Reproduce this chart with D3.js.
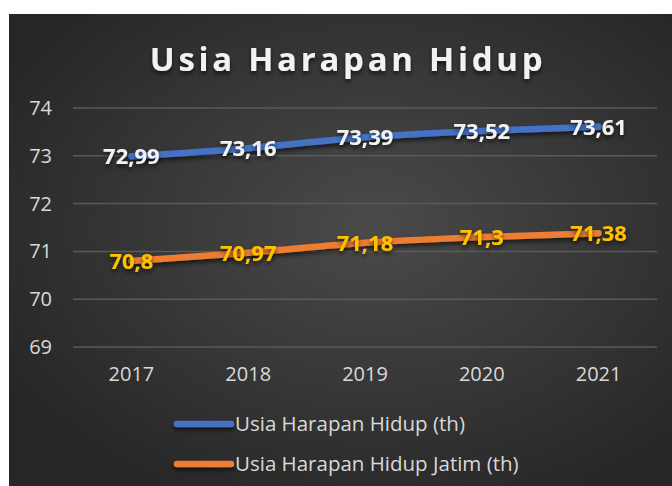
<!DOCTYPE html>
<html>
<head>
<meta charset="utf-8">
<script src="https://cdn.jsdelivr.net/npm/d3@7"></script>
<style>
  html, body { margin: 0; padding: 0; background: #fff; }
  svg { display: block; }
</style>
</head>
<body>
<div id="chart"></div>
<script>
// Data
const years = ['2017', '2018', '2019', '2020', '2021'];
const uhh = [72.99, 73.16, 73.39, 73.52, 73.61];
const uhhJatim = [70.8, 70.97, 71.18, 71.3, 71.38];
const yTicks = [69, 70, 71, 72, 73, 74];
const seriesNames = ['Usia Harapan Hidup (th)', 'Usia Harapan Hidup Jatim (th)'];

const width = 672, height = 486;
const margin = {top: 108, right: 15, bottom: 139, left: 73};
const fmt = v => String(v).replace('.', ',');

const svg = d3.select('#chart')
    .append('svg')
    .attr('width', width)
    .attr('height', height);

const defs = svg.append('defs');
const grad = defs.append('radialGradient')
    .attr('id', 'bg')
    .attr('cx', '55%').attr('cy', '45%').attr('r', '65%');
grad.append('stop').attr('offset', '0%').attr('stop-color', '#4a4a4a');
grad.append('stop').attr('offset', '100%').attr('stop-color', '#262626');

// shadow in user space so flat lines still render
const shadow = defs.append('filter').attr('id', 'shadow')
    .attr('filterUnits', 'userSpaceOnUse')
    .attr('x', 0).attr('y', 0).attr('width', width).attr('height', height);
shadow.append('feDropShadow')
    .attr('dx', 0).attr('dy', 3).attr('stdDeviation', 2)
    .attr('flood-color', '#000').attr('flood-opacity', 0.6);

// Background panel
svg.append('rect')
    .attr('x', 9).attr('y', 14)
    .attr('width', width - 9).attr('height', height - 14)
    .attr('fill', 'url(#bg)');

// Title
svg.append('text')
    .attr('x', 348).attr('y', 71)
    .attr('text-anchor', 'middle')
    .attr('font-family', 'Open Sans, sans-serif')
    .attr('font-weight', 'bold')
    .attr('font-size', 33)
    .attr('letter-spacing', 3.7)
    .attr('fill', '#f2f2f2')
    .attr('filter', 'url(#shadow)')
    .text('Usia Harapan Hidup');

const innerH = height - margin.top - margin.bottom;
const innerW = width - margin.left - margin.right;

const g = svg.append('g')
    .attr('transform', `translate(${margin.left},${margin.top})`);

const x = d3.scaleBand()
    .domain(years)
    .range([0, innerW]);

const y = d3.scaleLinear()
    .domain([69, 74])
    .range([innerH, 0]);

// Gridlines
g.append('g')
    .selectAll('line')
    .data(yTicks)
    .enter()
    .append('line')
    .attr('x1', 0).attr('x2', innerW)
    .attr('y1', d => y(d)).attr('y2', d => y(d))
    .attr('stroke', '#5a5a5a')
    .attr('stroke-width', 1.5);

// Y axis
const yAxis = g.append('g')
    .call(d3.axisLeft(y).tickValues(yTicks).tickFormat(d3.format('d')).tickSize(0).tickPadding(21));
yAxis.select('.domain').remove();
yAxis.selectAll('text')
    .attr('font-family', 'Open Sans, sans-serif')
    .attr('font-size', 20)
    .attr('fill', '#d9d9d9');

// X axis
const xAxis = g.append('g')
    .attr('transform', `translate(0,${innerH})`)
    .call(d3.axisBottom(x).tickSize(0).tickPadding(20));
xAxis.select('.domain').remove();
xAxis.selectAll('text')
    .attr('font-family', 'Open Sans, sans-serif')
    .attr('font-size', 20)
    .attr('fill', '#d9d9d9');

const cx = d => x(d) + x.bandwidth() / 2;

const line = d3.line()
    .x(d => cx(d.year))
    .y(d => y(d.value))
    .curve(d3.curveMonotoneX);

const series = [
    {name: seriesNames[0], values: uhh, color: '#4472c4', label: '#f2f2f2'},
    {name: seriesNames[1], values: uhhJatim, color: '#ed7d31', label: '#ffc000'}
];

series.forEach(s => {
    const pts = years.map((yr, i) => ({year: yr, value: s.values[i]}));
    g.append('path')
        .datum(pts)
        .attr('d', line)
        .attr('fill', 'none')
        .attr('stroke', s.color)
        .attr('stroke-width', 6.5)
        .attr('stroke-linecap', 'round')
        .attr('filter', 'url(#shadow)');

    g.append('g')
        .selectAll('text')
        .data(pts)
        .enter()
        .append('text')
        .attr('x', d => cx(d.year))
        .attr('y', d => y(d.value))
        .attr('dy', '0.36em')
        .attr('text-anchor', 'middle')
        .attr('font-family', 'Open Sans, sans-serif')
        .attr('font-weight', 'bold')
        .attr('font-size', 22)
        .attr('fill', s.label)
        .attr('filter', 'url(#shadow)')
        .text(d => fmt(d.value));
});

// Legend
const legend = svg.append('g');
series.forEach((s, i) => {
    const ly = 424 + i * 40;
    legend.append('line')
        .attr('x1', 177).attr('x2', 231)
        .attr('y1', ly).attr('y2', ly)
        .attr('stroke', s.color)
        .attr('stroke-width', 6.5)
        .attr('stroke-linecap', 'round')
        .attr('filter', 'url(#shadow)');
    legend.append('text')
        .attr('x', 235).attr('y', ly)
        .attr('dy', '0.35em')
        .attr('font-family', 'Open Sans, sans-serif')
        .attr('font-size', 20.5)
        .attr('fill', '#d9d9d9')
        .text(s.name);
});
</script>
</body>
</html>
